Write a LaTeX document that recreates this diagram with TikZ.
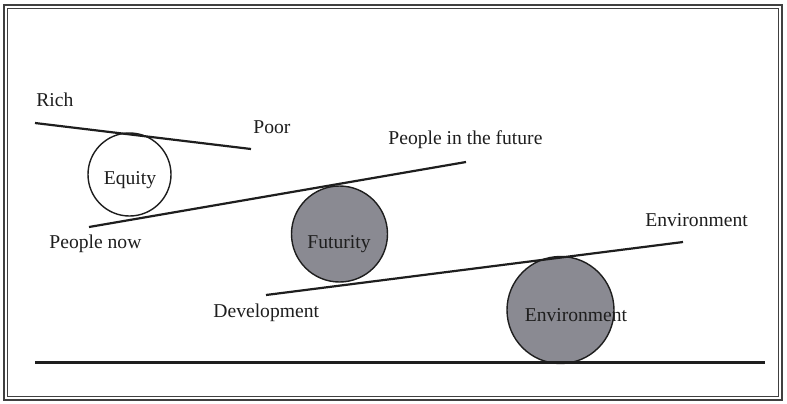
\documentclass[tikz,border=0pt]{standalone}
\usepackage{fontspec}
\setmainfont{Liberation Serif}
\definecolor{stip}{RGB}{138,138,146}
\definecolor{ink}{RGB}{30,30,30}
\begin{document}
\begin{tikzpicture}[x=0.5pt,y=-0.5pt,
  lbl/.style={inner sep=0pt,font=\fontsize{9.8}{12}\selectfont,text=ink},
  beam/.style={draw=ink,line width=1.1pt},
  ball/.style={draw=ink,line width=0.7pt},
  frame/.style={draw=ink!85,line width=0.9pt}]
\useasboundingbox (0,0) rectangle (787,403);
\fill[white] (0,0) rectangle (787,403);
% frame
\draw[frame] (4,5) rectangle (782,400);
\draw[frame] (7.5,8.5) rectangle (778.5,396.5);
% circles
\draw[ball,fill=white] (129.5,174.5) circle[radius=20.75pt];
\draw[ball,fill=stip] (339.5,234) circle[radius=24pt];
\draw[ball,fill=stip] (560.5,310) circle[radius=26.75pt];
% beams
\coordinate (r1) at (35,123); \coordinate (r2) at (251,149);
\coordinate (p1) at (89,227); \coordinate (p2) at (466,162);
\coordinate (d1) at (266,295); \coordinate (d2) at (683,242);
\coordinate (g1) at (35,362.5); \coordinate (g2) at (765,362.5);
\draw[beam] (r1) -- (r2);
\draw[beam] (p1) -- (p2);
\draw[beam] (d1) -- (d2);
\draw[beam] (g1) -- (g2);
% labels
\node[lbl,anchor=west] (rich) at (36,100) {Rich};
\node[lbl,anchor=west] (poor) at (253,127) {Poor};
\node[lbl,anchor=west] (fut) at (388,140) {People in the future};
\node[lbl] (eq) at (130,180) {Equity};
\node[lbl,anchor=west] (now) at (49,244) {People now};
\node[lbl] (futy) at (339,244.5) {Futurity};
\node[lbl,anchor=west] (dev) at (213,313) {Development};
\node[lbl,anchor=west] (env1) at (645,220) {Environment};
\node[lbl] (env2) at (576,315) {Environment};
\end{tikzpicture}
\end{document}
